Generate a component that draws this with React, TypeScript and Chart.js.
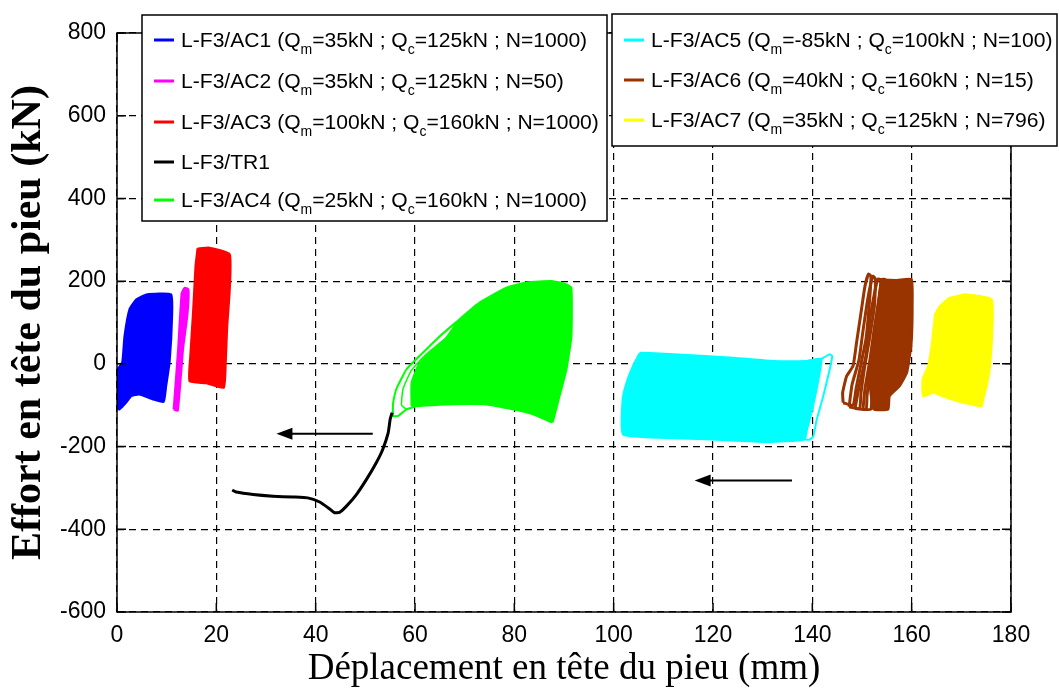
import React, { useEffect, useRef } from 'react';
import { Chart, registerables } from 'chart.js';

Chart.register(...registerables);

// ---------------- axes ----------------
const xMin = 0;
const xMax = 180;
const xStep = 20;
const yMin = -600;
const yMax = 800;
const yStep = 200;
const xTitle = 'Déplacement en tête du pieu (mm)';
const yTitle = 'Effort en tête du pieu (kN)';

// ---------------- series (outlines of the hysteresis clouds, mm / kN) ----------------
const ac1X = [0.16, 0.16, 1.05, 1.5, 2.5, 3.9, 5.9, 10.9, 11.1, 10.6, 9.9, 9.4, 7.2, 4.5, 2.9, 1.9, 0.5];
const ac1Y = [-110, -13, 4, 67, 132, 156, 168, 168, 116, 4, -54, -92, -86, -74, -78, -93, -110];

const ac2X = [11.4, 12.3, 13.0, 13.6, 14.4, 14.2, 13.3, 12.25];
const ac2Y = [-110, 35, 170, 184, 180, 120, 35, -113];

const ac3X = [16.2, 18.6, 22.7, 22.7, 22.2, 21.9, 21.5, 18.0, 14.6, 14.75, 15.3, 15.8];
const ac3Y = [279, 281, 265, 176, 91, 3, -58, -47, -42, 19, 124, 237];

const tr1X = [23.2, 24.0, 27.4, 31.4, 35.4, 38.4, 40.8, 42.5, 43.8, 44.8, 46.2, 48.2, 50.2, 52.2, 53.5, 54.6, 55.0, 55.4];
const tr1Y = [-305, -310, -316, -320, -322, -324, -334, -348, -360, -359, -344, -316, -280, -239, -207, -167, -134, -118];

const ac4X = [59.3, 60.3, 66.3, 74.4, 79.7, 83.8, 87.5, 87.8, 89.1, 90.5, 91.5, 91.5, 90.5, 87.8, 82.4, 78.4, 73.0, 69.0, 66.3, 63.0, 60.6, 59.3];
const ac4Y = [-102, -102, -98, -98, -110, -122, -141, -138, -78, -13, 67, 184, 192, 200, 197, 184, 148, 108, 63, 27, -5, -46];
const ac4OuterX = [69.0, 65.0, 60.9, 58.3, 56.2, 55.6, 55.6, 56.6, 58.3, 60.3];
const ac4OuterY = [108, 67, 19, -13, -62, -94, -126, -126, -110, -102];
const ac4InnerX = [66.3, 62.0, 59.3, 57.6, 57.3, 58.3];
const ac4InnerY = [63, 20, -15, -60, -100, -110];

const ac5X = [105.3, 109.3, 124.1, 132.1, 138.8, 141.8, 141.2, 140.0, 138.9, 138.4, 130.8, 120.0, 110.6, 101.9, 101.8, 102.6, 103.9, 105.1];
const ac5Y = [27, 25, 15, 7, 7, 12, -40, -110, -160, -183, -189, -183, -179, -171, -86, -45, -5, 23];
const ac5LoopX = [141.8, 143.5, 144.0, 143.5, 142.2, 140.9, 140.2, 139.5, 138.4];
const ac5LoopY = [12, 23, 19, -13, -78, -134, -175, -183, -183];

const ac6X = [154.0, 157.0, 160.0, 160.2, 160.0, 159.1, 157.6, 155.6, 155.3, 152.3, 151.5, 152.3, 153.2];
const ac6Y = [204, 203, 205, 148, 51, -21, -54, -78, -110, -110, -40, 50, 140];
const ac6Loop1X = [146.2, 146.1, 146.9, 148.2, 148.9, 149.9, 150.6, 151.3, 151.8, 151.5, 150.8, 149.8, 148.8, 148.2];
const ac6Loop1Y = [-94, -70, -30, -5, 51, 132, 188, 217, 212, 150, 60, 0, -60, -100];
const ac6Loop2X = [147.4, 148.0, 149.4, 150.2, 151.2, 152.2, 152.7, 152.5, 151.5, 150.5, 149.8, 149.5];
const ac6Loop2Y = [-104, -50, 10, 80, 160, 212, 205, 140, 60, -10, -70, -108];
const ac6Loop3X = [148.6, 149.5, 150.8, 151.5, 152.5, 153.2, 153.8, 153.4, 152.5, 151.5, 151.0, 150.8];
const ac6Loop3Y = [-108, -50, 20, 100, 170, 205, 203, 150, 60, -20, -80, -110];
const ac6Loop4X = [150.2, 150.6, 151.6, 152.4, 153.3, 154.0, 154.6, 154.0, 153.2, 152.5, 152.0, 151.8];
const ac6Loop4Y = [-110, -60, 10, 80, 150, 204, 204, 140, 60, -10, -70, -110];

const ac7X = [164.7, 165.7, 167.7, 171.1, 176.1, 176.3, 175.8, 175.1, 174.4, 174.1, 171.1, 167.0, 164.3, 162.3, 162.2, 163.3, 164.0];
const ac7Y = [120, 140, 160, 168, 156, 100, -5, -54, -86, -102, -96, -82, -70, -78, -38, -5, 43];

// arrows (direction of loading sequence)
const arrowFromX = [51.5, 135.9];
const arrowToX = [32.1, 116.3];
const arrowY = [-169, -282];

// ---------------- legend ----------------
const seriesNames = ['L-F3/AC1', 'L-F3/AC2', 'L-F3/AC3', 'L-F3/TR1', 'L-F3/AC4', 'L-F3/AC5', 'L-F3/AC6', 'L-F3/AC7'];
const seriesQm = ['35', '35', '100', '', '25', '-85', '40', '35'];
const seriesQc = ['125', '125', '160', '', '160', '100', '160', '125'];
const seriesN = ['1000', '50', '1000', '', '1000', '100', '15', '796'];
const seriesColors = ['#0000ff', '#ff00ff', '#ff0000', '#000000', '#00ff00', '#00ffff', '#993300', '#ffff00'];

const SANS = '"Liberation Sans", Arial, Helvetica, sans-serif';
const SERIF = '"Liberation Serif", "Times New Roman", Times, serif';

const legendBoxes = [
  { x: 142, y: 15, w: 465, h: 206, items: [0, 1, 2, 3, 4], rows: [47, 88, 129, 169, 207] },
  { x: 612, y: 14, w: 445, h: 132, items: [5, 6, 7], rows: [47, 87, 127] },
];

function pts(xs: number[], ys: number[], close: boolean) {
  const p = xs.map((x, i) => ({ x, y: ys[i] }));
  if (close) p.push({ x: xs[0], y: ys[0] });
  return p;
}

function area(label: string, xs: number[], ys: number[], color: string) {
  return {
    label,
    data: pts(xs, ys, true),
    showLine: true,
    fill: 'shape',
    backgroundColor: color,
    borderColor: color,
    borderWidth: 2,
    pointRadius: 0,
    tension: 0.15,
  };
}

function path(label: string, xs: number[], ys: number[], color: string, width: number, close: boolean) {
  return {
    label,
    data: pts(xs, ys, close),
    showLine: true,
    fill: false,
    backgroundColor: color,
    borderColor: color,
    borderWidth: width,
    pointRadius: 0,
    tension: 0.15,
  };
}

function drawEntry(ctx: CanvasRenderingContext2D, x: number, y: number, i: number) {
  ctx.fillStyle = '#000';
  ctx.textAlign = 'left';
  ctx.textBaseline = 'alphabetic';
  const main = `21.1px ${SANS}`;
  const sub = `14px ${SANS}`;
  const parts: [string, boolean][] = seriesQm[i]
    ? [
        [`${seriesNames[i]} (Q`, false],
        ['m', true],
        [`=${seriesQm[i]}kN ; Q`, false],
        ['c', true],
        [`=${seriesQc[i]}kN ; N=${seriesN[i]})`, false],
      ]
    : [[seriesNames[i], false]];
  let cx = x;
  for (const [t, s] of parts) {
    ctx.font = s ? sub : main;
    ctx.fillText(t, cx, s ? y + 7 : y);
    cx += ctx.measureText(t).width;
  }
}

const overlay = {
  id: 'overlay',
  afterDraw(chart: any) {
    const { ctx, chartArea: a } = chart;
    const sx = chart.scales.x;
    const sy = chart.scales.y;
    ctx.save();
    ctx.setLineDash([]);
    ctx.strokeStyle = '#000';
    ctx.lineWidth = 1.5;
    ctx.strokeRect(a.left, a.top, a.right - a.left, a.bottom - a.top);
    ctx.beginPath();
    for (const t of sx.ticks) {
      const p = sx.getPixelForValue(t.value);
      ctx.moveTo(p, a.bottom);
      ctx.lineTo(p, a.bottom - 9);
      ctx.moveTo(p, a.top);
      ctx.lineTo(p, a.top + 9);
    }
    for (const t of sy.ticks) {
      const p = sy.getPixelForValue(t.value);
      ctx.moveTo(a.left, p);
      ctx.lineTo(a.left + 9, p);
      ctx.moveTo(a.right, p);
      ctx.lineTo(a.right - 9, p);
    }
    ctx.stroke();

    // arrows
    ctx.lineWidth = 2;
    ctx.fillStyle = '#000';
    arrowFromX.forEach((fx, i) => {
      const x0 = sx.getPixelForValue(fx);
      const x1 = sx.getPixelForValue(arrowToX[i]);
      const yy = sy.getPixelForValue(arrowY[i]);
      ctx.beginPath();
      ctx.moveTo(x0, yy);
      ctx.lineTo(x1 + 10, yy);
      ctx.stroke();
      ctx.beginPath();
      ctx.moveTo(x1, yy);
      ctx.lineTo(x1 + 16, yy - 6);
      ctx.lineTo(x1 + 16, yy + 6);
      ctx.closePath();
      ctx.fill();
    });

    // legends
    for (const b of legendBoxes) {
      ctx.fillStyle = '#fff';
      ctx.fillRect(b.x, b.y, b.w, b.h);
      ctx.strokeStyle = '#000';
      ctx.lineWidth = 1.5;
      ctx.strokeRect(b.x, b.y, b.w, b.h);
      b.items.forEach((idx, r) => {
        const by = b.rows[r];
        ctx.strokeStyle = seriesColors[idx];
        ctx.lineWidth = 3;
        ctx.beginPath();
        ctx.moveTo(b.x + 12, by - 7);
        ctx.lineTo(b.x + 32, by - 7);
        ctx.stroke();
        drawEntry(ctx, b.x + 39, by, idx);
      });
    }
    ctx.restore();
  },
};

export default function App() {
  const ref = useRef<HTMLCanvasElement>(null);
  useEffect(() => {
    if (!ref.current) return;
    const datasets: any[] = [
      path(seriesNames[3], tr1X, tr1Y, seriesColors[3], 3, false),
      area(seriesNames[0], ac1X, ac1Y, seriesColors[0]),
      area(seriesNames[1], ac2X, ac2Y, seriesColors[1]),
      area(seriesNames[2], ac3X, ac3Y, seriesColors[2]),
      area(seriesNames[4], ac4X, ac4Y, seriesColors[4]),
      path(seriesNames[4], ac4OuterX, ac4OuterY, seriesColors[4], 2, false),
      path(seriesNames[4], ac4InnerX, ac4InnerY, seriesColors[4], 1.5, false),
      area(seriesNames[5], ac5X, ac5Y, seriesColors[5]),
      path(seriesNames[5], ac5LoopX, ac5LoopY, seriesColors[5], 2, false),
      area(seriesNames[6], ac6X, ac6Y, seriesColors[6]),
      path(seriesNames[6], ac6Loop1X, ac6Loop1Y, seriesColors[6], 3, true),
      path(seriesNames[6], ac6Loop2X, ac6Loop2Y, seriesColors[6], 3, true),
      path(seriesNames[6], ac6Loop3X, ac6Loop3Y, seriesColors[6], 3, true),
      path(seriesNames[6], ac6Loop4X, ac6Loop4Y, seriesColors[6], 3, true),
      area(seriesNames[7], ac7X, ac7Y, seriesColors[7]),
    ];
    const gridCommon = { color: '#000', lineWidth: 1.2, drawTicks: false, borderDash: [7, 5] };
    const chart = new Chart(ref.current, {
      type: 'scatter',
      data: { datasets },
      options: {
        animation: false,
        responsive: false,
        events: [],
        layout: { padding: { left: 0, top: 33, right: 48, bottom: 0 } },
        plugins: { legend: { display: false }, tooltip: { enabled: false } },
        scales: {
          x: {
            type: 'linear',
            min: xMin,
            max: xMax,
            afterFit: (s: any) => { s.height = 79; },
            ticks: { stepSize: xStep, autoSkip: false, maxRotation: 0, padding: 10, color: '#000', font: { family: SANS, size: 23 } },
            grid: gridCommon,
            border: { display: false, dash: [7, 5] },
            title: { display: true, text: xTitle, color: '#000', font: { family: SERIF, size: 37, lineHeight: 1 }, padding: { top: 0, bottom: 3 } },
          },
          y: {
            type: 'linear',
            min: yMin,
            max: yMax,
            afterFit: (s: any) => { s.width = 117; },
            ticks: { stepSize: yStep, autoSkip: false, padding: 11, color: '#000', font: { family: SANS, size: 23 } },
            grid: gridCommon,
            border: { display: false, dash: [7, 5] },
            title: { display: true, text: yTitle, color: '#000', font: { family: SERIF, size: 42, weight: 'bold', lineHeight: 1 }, padding: { top: 8, bottom: 0 } },
          },
        },
      } as any,
      plugins: [overlay],
    });
    return () => chart.destroy();
  }, []);
  return (
    <div style={{ position: 'absolute', left: 0, top: 0, width: 1059, height: 691, background: '#fff' }}>
      <canvas ref={ref} width={1059} height={691} style={{ display: 'block' }} />
    </div>
  );
}
